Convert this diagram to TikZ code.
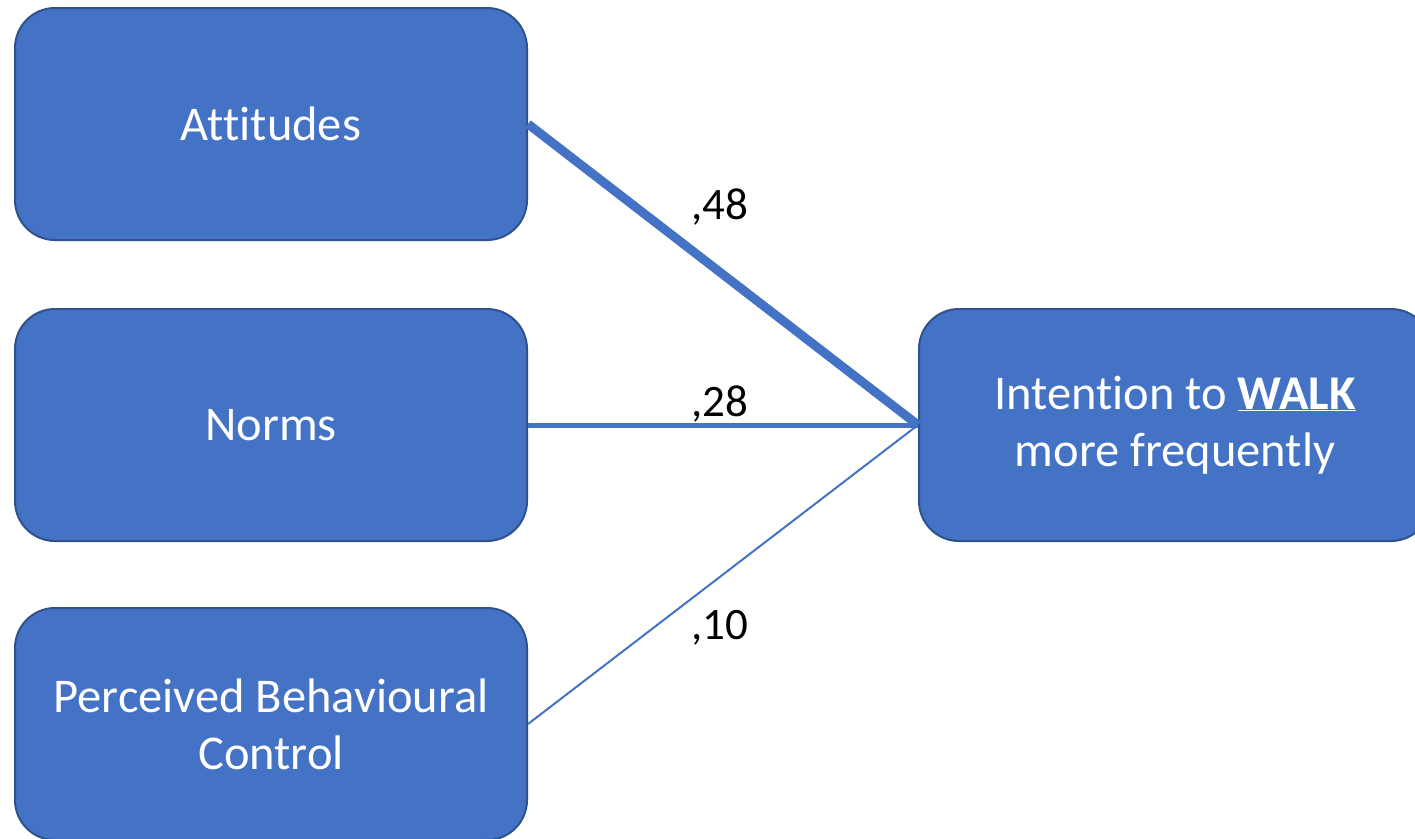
\documentclass[tikz,border=0pt]{standalone}
\usepackage{fontspec}
\setmainfont[Ligatures={NoCommon}]{Carlito}
\usetikzlibrary{positioning}

\definecolor{boxblue}{HTML}{4472C4}
\definecolor{boxedge}{HTML}{2F528F}

\begin{document}
\begin{tikzpicture}[x=1pt,y=-1pt,
  factor/.style={draw=boxedge, line width=2pt, fill=boxblue, rounded corners=40pt,
    minimum width=512pt, minimum height=232pt, text=white, align=center,
    font=\fontsize{48.5}{57}\selectfont},
  coef/.style={font=\fontsize{45}{54}\selectfont, inner sep=0pt}]

% 画布大小
\useasboundingbox (0,0) rectangle (1415,838);

% 三个前因
\node[factor] (att) at (271,124) {Attitudes};
\node[factor, below=67pt of att] (norm) {Norms};
\node[factor, below=65pt of norm] (pbc) {Perceived Behavioural\\Control};

% 意向
\node[factor, right=390pt of norm] (int) {Intention to \textbf{\underline{WALK}}\\more frequently};

% 路径（线宽表示系数大小）
\draw[boxblue, line width=9pt] (att.east) -- (int.west);
\draw[boxblue, line width=5pt] (norm.east) -- (int.west);
\draw[boxblue, line width=2pt] (pbc.east) -- (int.west);

% 系数
\node[coef] (c1) at (720,207) {,48};
\node[coef] (c2) at (720,404) {,28};
\node[coef] (c3) at (720,628) {,10};

\end{tikzpicture}
\end{document}
